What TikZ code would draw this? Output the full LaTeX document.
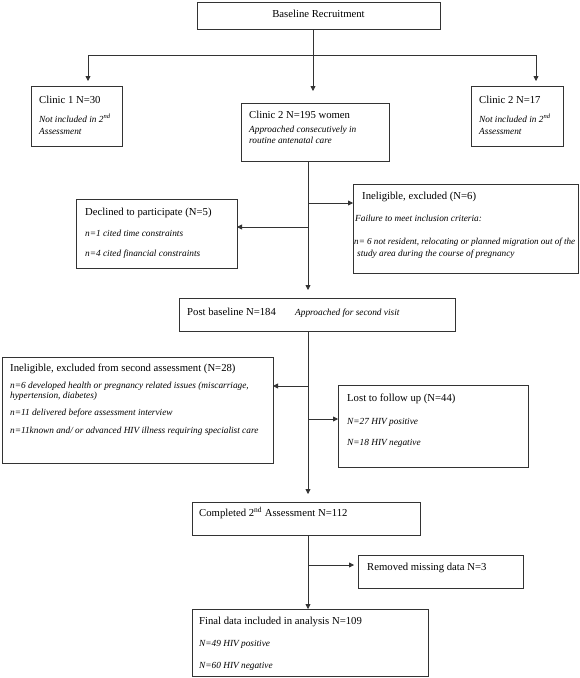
\documentclass[tikz,border=0pt]{standalone}
\usepackage{fontspec}
\setmainfont{Liberation Serif}
\usetikzlibrary{arrows.meta}
\begin{document}
\begin{tikzpicture}[x=1pt,y=-1pt,
  box/.style={draw=black!80, line width=0.8pt, rectangle, anchor=north west, inner sep=0pt, outer sep=0pt},
  mt/.style={anchor=base west, inner sep=0pt, font=\fontsize{10.7}{12}\selectfont},
  it/.style={anchor=base west, inner sep=0pt, font=\fontsize{9.3}{11}\selectfont\itshape},
  ln/.style={draw=black!80, line width=0.8pt},
  arr/.style={ln, -{Triangle[length=5pt,width=5pt]}}]
\useasboundingbox (0,0) rectangle (580,678);
\fill[white] (0,0) rectangle (580,678);
% boxes
\node[box, minimum width=243pt, minimum height=27pt] (base) at (197,2) {};
\node[box, minimum width=91pt, minimum height=60pt] (cl1) at (31,86) {};
\node[box, minimum width=148pt, minimum height=58pt] (cl2) at (241,103) {};
\node[box, minimum width=92pt, minimum height=60pt] (cl3) at (471,86) {};
\node[box, minimum width=225pt, minimum height=89pt] (inel6) at (353,184) {};
\node[box, minimum width=161pt, minimum height=69pt] (decl) at (76,199) {};
\node[box, minimum width=276pt, minimum height=33pt] (post) at (179,298) {};
\node[box, minimum width=271pt, minimum height=106pt] (inel28) at (2,357) {};
\node[box, minimum width=190pt, minimum height=82pt] (lost) at (338,385) {};
\node[box, minimum width=228pt, minimum height=33pt] (comp) at (192,502) {};
\node[box, minimum width=165pt, minimum height=33pt] (rem) at (358,555) {};
\node[box, minimum width=236pt, minimum height=67pt] (final) at (192,609) {};
% texts
\node[mt, anchor=base] (tbase) at (318.5,17.5) {Baseline Recruitment};
\node[mt] (tc1a) at (39,103.5) {Clinic 1 N=30};
\node[it] (tc1b) at (39,122) {Not included in 2\textsuperscript{nd}};
\node[it] (tc1c) at (39,134) {Assessment};
\node[mt] (tc2a) at (249,118) {Clinic 2 N=195 women};
\node[it] (tc2b) at (249,132) {Approached consecutively in};
\node[it] (tc2c) at (249,143) {routine antenatal care};
\node[mt] (tc3a) at (479,103.5) {Clinic 2 N=17};
\node[it] (tc3b) at (479,122) {Not included in 2\textsuperscript{nd}};
\node[it] (tc3c) at (479,134) {Assessment};
\node[mt] (ti6a) at (362,199.5) {Ineligible, excluded (N=6)};
\node[it] (ti6b) at (355,221) {Failure to meet inclusion criteria:};
\node[it, font=\fontsize{9.1}{11}\selectfont\itshape] (ti6c) at (354,244) {n= 6 not resident, relocating or planned migration out of the};
\node[it] (ti6d) at (357,256) {study area during the course of pregnancy};
\node[mt] (tda) at (85,215.5) {Declined to participate (N=5)};
\node[it] (tdb) at (85,236) {n=1 cited time constraints};
\node[it] (tdc) at (85,256) {n=4 cited financial constraints};
\node[mt] (tpa) at (187,315) {Post baseline N=184};
\node[it] (tpb) at (295,315) {Approached for second visit};
\node[mt] (t28a) at (10,371) {Ineligible, excluded from second assessment (N=28)};
\node[it] (t28b) at (10,388) {n=6 developed health or pregnancy related issues (miscarriage,};
\node[it] (t28c) at (10,398) {hypertension, diabetes)};
\node[it] (t28d) at (10,415) {n=11 delivered before assessment interview};
\node[it] (t28e) at (10,433) {n=11known and/ or advanced HIV illness requiring specialist care};
\node[mt] (tla) at (347,401.5) {Lost to follow up (N=44)};
\node[it] (tlb) at (347,424) {N=27 HIV positive};
\node[it] (tlc) at (347,445) {N=18 HIV negative};
\node[mt] (tca) at (199,516.5) {Completed 2\textsuperscript{nd} Assessment N=112};
\node[mt] (tra) at (367,570.5) {Removed missing data N=3};
\node[mt] (tfa) at (199,624.5) {Final data included in analysis N=109};
\node[it] (tfb) at (199,646) {N=49 HIV positive};
\node[it] (tfc) at (199,668) {N=60 HIV negative};
% connectors
\coordinate (jt) at (313,55);
\coordinate (jl) at (88,55);
\coordinate (jr) at (536,55);
\draw[arr, shorten >=12pt] (base.south -| jt) -- (cl2.north -| jt);
\draw[ln] (jl) -- (jr);
\draw[arr, shorten >=5pt] (jl) -- (cl1.north -| jl);
\draw[arr, shorten >=5pt] (jr) -- (cl3.north -| jr);
\coordinate (sp) at (308,0);
\draw[arr, shorten >=8pt] (cl2.south -| sp) -- (post.north -| sp);
\coordinate (b1) at (308,203);
\coordinate (b2) at (308,227);
\draw[arr] (b1) -- (inel6.west |- b1);
\draw[arr] (b2) -- (decl.east |- b2);
\draw[arr, shorten >=8pt] (post.south -| sp) -- (comp.north -| sp);
\coordinate (b3) at (308,386);
\coordinate (b4) at (308,419);
\draw[arr] (b3) -- (inel28.east |- b3);
\draw[arr] (b4) -- (lost.west |- b4);
\draw[arr] (comp.south -| sp) -- (final.north -| sp);
\coordinate (b5) at (308,565);
\draw[arr, shorten >=4pt] (b5) -- (rem.west |- b5);
\end{tikzpicture}
\end{document}
